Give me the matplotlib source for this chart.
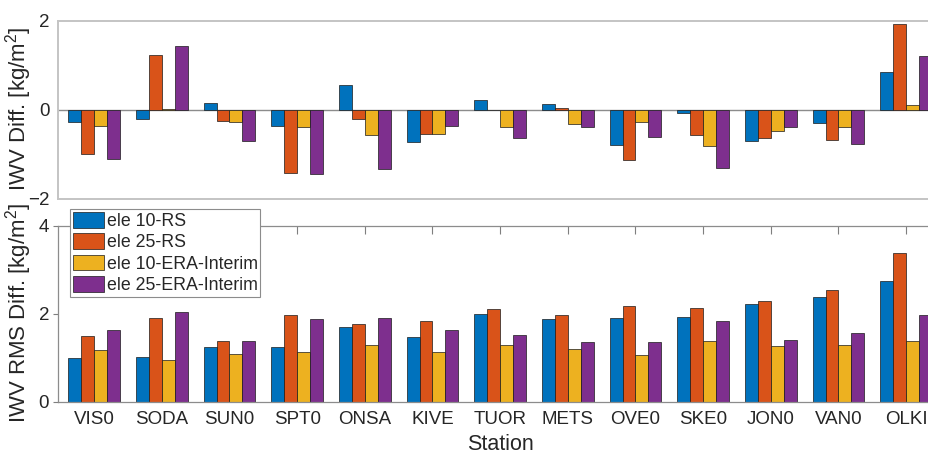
import numpy as np
import matplotlib
matplotlib.use("Agg")
import matplotlib.pyplot as plt

plt.rcParams['font.family'] = ['Liberation Sans', 'DejaVu Sans']
plt.rcParams['mathtext.fontset'] = 'custom'
plt.rcParams['mathtext.rm'] = 'Liberation Sans'
plt.rcParams['mathtext.it'] = 'Liberation Sans:italic'

stations = ['VIS0', 'SODA', 'SUN0', 'SPT0', 'ONSA', 'KIVE', 'TUOR',
            'METS', 'OVE0', 'SKE0', 'JON0', 'VAN0', 'OLKI']
series_names = ['ele 10-RS', 'ele 25-RS', 'ele 10-ERA-Interim', 'ele 25-ERA-Interim']

# mean IWV differences [kg/m^2]
diff_ele10_rs = [-0.28, -0.20, 0.16, -0.37, 0.56, -0.73, 0.22, 0.13, -0.80, -0.08, -0.71, -0.31, 0.85]
diff_ele25_rs = [-1.00, 1.24, -0.26, -1.43, -0.21, -0.55, 0.00, 0.04, -1.13, -0.57, -0.64, -0.67, 1.93]
diff_ele10_era = [-0.37, 0.01, -0.28, -0.39, -0.57, -0.55, -0.40, -0.32, -0.28, -0.82, -0.48, -0.40, 0.11]
diff_ele25_era = [-1.11, 1.43, -0.70, -1.45, -1.34, -0.37, -0.64, -0.40, -0.61, -1.30, -0.40, -0.76, 1.21]

# RMS IWV differences [kg/m^2]
rms_ele10_rs = [1.00, 1.02, 1.24, 1.24, 1.70, 1.47, 2.00, 1.88, 1.91, 1.92, 2.23, 2.38, 2.74]
rms_ele25_rs = [1.50, 1.91, 1.39, 1.97, 1.76, 1.83, 2.11, 1.98, 2.17, 2.14, 2.30, 2.55, 3.38]
rms_ele10_era = [1.17, 0.94, 1.08, 1.14, 1.30, 1.14, 1.28, 1.20, 1.07, 1.39, 1.27, 1.30, 1.37]
rms_ele25_era = [1.64, 2.03, 1.39, 1.89, 1.91, 1.64, 1.51, 1.36, 1.35, 1.83, 1.40, 1.57, 1.97]

colors = ['#0072BD', '#D95319', '#EDB120', '#7E2F8E']
text_color = '#262626'

W, H = 929, 458
fig = plt.figure(figsize=(W / 100, H / 100), dpi=100)

left_px, right_px = 58.3, 942.0
ax1 = fig.add_axes([left_px / W, 1 - 198.7 / H, (right_px - left_px) / W, (198.7 - 20.7) / H])
ax2 = fig.add_axes([left_px / W, 1 - 401.7 / H, (right_px - left_px) / W, (401.7 - 225.7) / H])

x = np.arange(1, len(stations) + 1)
bw = 0.19
offsets = (np.arange(4) - 1.5) * bw

diff_sets = [diff_ele10_rs, diff_ele25_rs, diff_ele10_era, diff_ele25_era]
rms_sets = [rms_ele10_rs, rms_ele25_rs, rms_ele10_era, rms_ele25_era]

for vals, off, c in zip(diff_sets, offsets, colors):
    ax1.bar(x + off, vals, width=bw, color=c, edgecolor='#1a1a1a', linewidth=0.5, zorder=2)
handles = []
for vals, off, c, name in zip(rms_sets, offsets, colors, series_names):
    h = ax2.bar(x + off, vals, width=bw, color=c, edgecolor='#1a1a1a', linewidth=0.5,
                zorder=2, label=name)
    handles.append(h)

# top panel: mean differences
ax1.axhline(0, color='#8c8c8c', linewidth=1.0, zorder=1)
ax1.set_xlim(0.47, 13.53)
ax1.set_ylim(-2, 2)
ax1.set_yticks([-2, 0, 2])
ax1.set_xticks([])
ax1.tick_params(axis='y', length=0, pad=6, labelsize=13.5, labelcolor=text_color)
for s in ['top', 'bottom', 'left']:
    ax1.spines[s].set_color('#c4c4c4')
    ax1.spines[s].set_linewidth(1.4)
ax1.spines['right'].set_visible(False)
ax1.set_ylabel('IWV Diff. [kg/m$^2$]', fontsize=16, color=text_color)
ax1.yaxis.set_label_coords(34 / W, 1 - 109 / H, transform=fig.transFigure)

# bottom panel: RMS differences
ax2.set_axisbelow(True)
ax2.set_xlim(0.47, 13.53)
ax2.set_ylim(0, 4)
ax2.set_yticks([0, 2, 4])
ax2.set_xticks(x)
ax2.set_xticklabels(stations)
ax2.tick_params(axis='x', which='major', top=True, bottom=True, direction='in',
                length=6, width=0.8, color='#7f7f7f', pad=7, labelsize=13.5,
                labelcolor=text_color)
ax2.tick_params(axis='y', direction='out', length=3.6, width=0.8, color='#7f7f7f',
                pad=3, labelsize=13.5, labelcolor=text_color)
for s in ['top', 'bottom', 'left']:
    ax2.spines[s].set_color('#8c8c8c')
    ax2.spines[s].set_linewidth(0.9)
ax2.spines['right'].set_visible(False)
ax2.set_ylabel('IWV RMS Diff. [kg/m$^2$]', fontsize=16, color=text_color)
ax2.yaxis.set_label_coords(34 / W, 1 - 313 / H, transform=fig.transFigure)
ax2.set_xlabel('Station', fontsize=15.5, color=text_color, labelpad=4)

leg = ax2.legend(handles=handles, loc='upper left',
                 bbox_to_anchor=(70 / W, 1 - 209.3 / H), bbox_transform=fig.transFigure,
                 fontsize=12.8, frameon=True, fancybox=False, framealpha=1,
                 edgecolor='#8c8c8c', borderpad=0.15, borderaxespad=0,
                 handlelength=1.74, handleheight=0.97, handletextpad=0.17,
                 labelspacing=0.2)
leg.get_frame().set_linewidth(0.8)
for t in leg.get_texts():
    t.set_color(text_color)
leg.set_zorder(5)

fig.savefig('out.png', dpi=100)
